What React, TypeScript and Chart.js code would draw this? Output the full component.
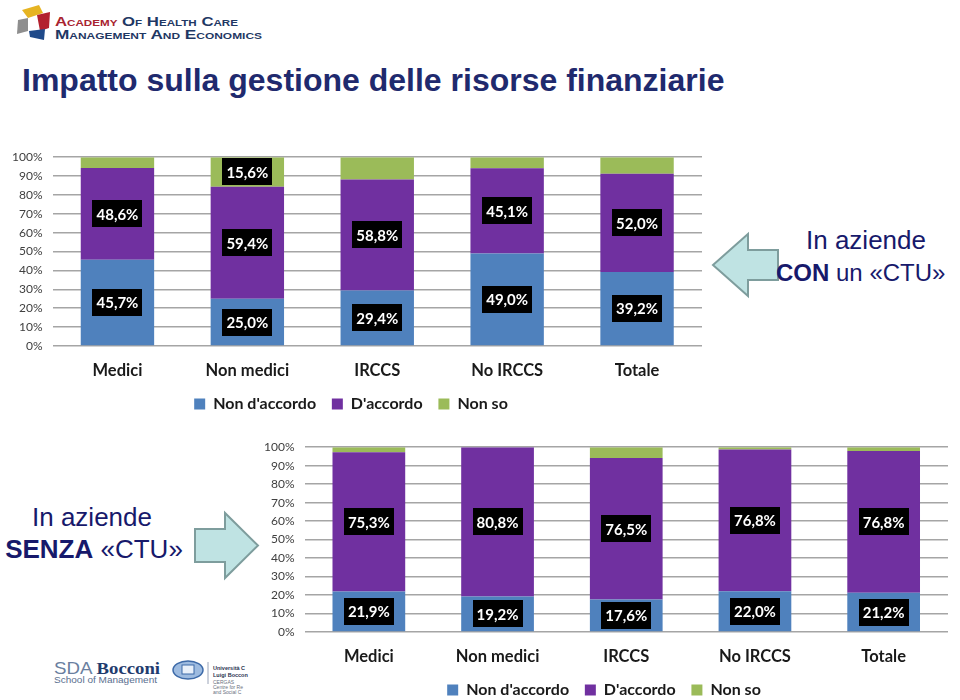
import React, { useEffect, useRef } from 'react';
import { Chart, registerables } from 'chart.js';

Chart.register(...registerables);
Chart.defaults.font.family = 'Lato';

// ---------- data ----------
const categories = ['Medici', 'Non medici', 'IRCCS', 'No IRCCS', 'Totale'];
const legendNames = ["Non d'accordo", "D'accordo", 'Non so'];
const yTickLabels = ['0%', '10%', '20%', '30%', '40%', '50%', '60%', '70%', '80%', '90%', '100%'];

// Aziende CON un «CTU»
const conNonAccordo = [45.7, 25.0, 29.4, 49.0, 39.2];
const conAccordo = [48.6, 59.4, 58.8, 45.1, 52.0];
const conNonSo = [5.7, 15.6, 11.8, 5.9, 8.8];
const conNonAccordoShown = [true, true, true, true, true];
const conAccordoShown = [true, true, true, true, true];
const conNonSoShown = [false, true, false, false, false];

// Aziende SENZA «CTU»
const senzaNonAccordo = [21.9, 19.2, 17.6, 22.0, 21.2];
const senzaAccordo = [75.3, 80.8, 76.5, 76.8, 76.8];
const senzaNonSo = [2.8, 0.0, 5.9, 1.2, 2.0];
const senzaNonAccordoShown = [true, true, true, true, true];
const senzaAccordoShown = [true, true, true, true, true];
const senzaNonSoShown = [false, false, false, false, false];

const seriesColors = ['#4F81BD', '#7030A0', '#9BBB59'];

const fmt = (v: number) => v.toFixed(1).replace('.', ',') + '%';

const boxLabelPlugin = {
  id: 'boxLabels',
  afterDatasetsDraw(chart: any) {
    const ctx = chart.ctx as CanvasRenderingContext2D;
    ctx.save();
    ctx.font = 'bold 15px Lato';
    ctx.textAlign = 'center';
    ctx.textBaseline = 'middle';
    chart.data.datasets.forEach((ds: any, di: number) => {
      const meta = chart.getDatasetMeta(di);
      meta.data.forEach((bar: any, i: number) => {
        if (!ds.showLabels || !ds.showLabels[i]) return;
        const text = fmt(ds.data[i]);
        const cx = bar.x;
        const cy = (bar.y + bar.base) / 2;
        const w = ctx.measureText(text).width + 8;
        const h = 27;
        ctx.fillStyle = '#000';
        ctx.fillRect(Math.round(cx - w / 2), Math.round(cy - h / 2), Math.round(w), h);
        ctx.fillStyle = '#fff';
        ctx.fillText(text, cx, cy + 1);
      });
    });
    ctx.restore();
  },
};

type Spec = {
  left: number; top: number; width: number; height: number;
  yWidth: number; padTop: number; padRight: number; padBottom: number; xHeight: number;
  series: number[][]; shown: boolean[][];
};

function StackedChart({ spec }: { spec: Spec }) {
  const ref = useRef<HTMLCanvasElement>(null);
  useEffect(() => {
    const defaultGen = (Chart.defaults.plugins.legend.labels as any).generateLabels;
    const chart = new Chart(ref.current as HTMLCanvasElement, {
      type: 'bar',
      data: {
        labels: categories,
        datasets: spec.series.map((values, i) => ({
          label: legendNames[i],
          data: values,
          showLabels: spec.shown[i],
          backgroundColor: seriesColors[i],
          borderWidth: 0,
          barPercentage: 0.565,
          categoryPercentage: 1,
        })) as any,
      },
      options: {
        responsive: false,
        animation: false,
        layout: { padding: { top: spec.padTop, right: spec.padRight, bottom: spec.padBottom, left: 0 } },
        plugins: {
          tooltip: { enabled: false },
          legend: {
            position: 'bottom',
            labels: {
              boxWidth: 11,
              boxHeight: 11,
              padding: 8,
              color: '#1a1a1a',
              font: { family: 'Lato', size: 16, weight: 'bold' },
              generateLabels: (c: any) => {
                const items = defaultGen(c);
                return items.map((it: any, i: number) =>
                  i < items.length - 1 ? { ...it, text: it.text + '  ' } : it);
              },
            },
          },
        },
        scales: {
          x: {
            stacked: true,
            grid: { display: false },
            border: { display: false },
            ticks: { color: '#1a1a1a', font: { family: 'Lato', size: 16.5, weight: 'bold' }, padding: 7 },
            afterFit: (s: any) => { s.height = spec.xHeight; },
          },
          y: {
            stacked: true,
            min: 0,
            max: 100,
            ticks: {
              stepSize: 10,
              padding: 10,
              color: '#404040',
              font: { family: 'Lato', size: 12 },
              callback: (_v: any, idx: number) => yTickLabels[idx],
            },
            grid: { color: '#a5a5a5', lineWidth: 1.5, drawTicks: false },
            border: { display: false },
            afterFit: (s: any) => { s.width = spec.yWidth; },
          },
        },
      } as any,
      plugins: [boxLabelPlugin],
    });
    return () => chart.destroy();
  }, []);
  return (
    <canvas
      ref={ref}
      width={spec.width}
      height={spec.height}
      style={{ position: 'absolute', left: spec.left, top: spec.top, width: spec.width, height: spec.height }}
    />
  );
}

const topSpec: Spec = {
  left: 0, top: 140, width: 720, height: 290,
  yWidth: 52.5, padTop: 15, padRight: 18, padBottom: 8, xHeight: 42,
  series: [conNonAccordo, conAccordo, conNonSo],
  shown: [conNonAccordoShown, conAccordoShown, conNonSoShown],
};

const bottomSpec: Spec = {
  left: 260, top: 430, width: 700, height: 280,
  yWidth: 44.5, padTop: 12, padRight: 12, padBottom: 2, xHeight: 42,
  series: [senzaNonAccordo, senzaAccordo, senzaNonSo],
  shown: [senzaNonAccordoShown, senzaAccordoShown, senzaNonSoShown],
};

const NAVY = '#1f2a6e';
const SIDE = '#17196b';
const ARIAL = "'Liberation Sans', Arial, sans-serif";

function Decorations() {
  return (
    <svg width={960} height={700} style={{ position: 'absolute', left: 0, top: 0 }}>
      {/* top-left logo */}
      <polygon points="22,10 39,5 43,13 28,18" fill="#e6b422" />
      <polygon points="37,15 50,12 49,28 40,31" fill="#b3202e" />
      <polygon points="18,20 28,18 28,31 17,34" fill="#8e8e8e" />
      <polygon points="29,31 45,29 44,40 30,37" fill="#1f4a8a" />
      <text x={55} y={26} fontFamily={ARIAL} fontSize={13} fontWeight="bold"
        style={{ fontVariant: 'small-caps' }} textLength={183} lengthAdjust="spacingAndGlyphs">
        <tspan fill="#a8232f">Academy</tspan>
        <tspan fill="#1f3864"> Of Health Care</tspan>
      </text>
      <text x={55} y={39} fontFamily={ARIAL} fontSize={13} fontWeight="bold" fill="#1f3864"
        style={{ fontVariant: 'small-caps' }} textLength={207} lengthAdjust="spacingAndGlyphs">
        Management And Economics
      </text>

      {/* title */}
      <text x={22} y={91} fontFamily={ARIAL} fontSize={32} fontWeight="bold" fill={NAVY}>
        Impatto sulla gestione delle risorse finanziarie
      </text>

      {/* top right arrow + text */}
      <polygon points="713,265 748,234 748,250 778,250 778,280 748,280 748,296"
        fill="#bfe3e3" stroke="#7e9d9d" strokeWidth={2} strokeLinejoin="miter" />
      <text x={806} y={249} fontFamily={ARIAL} fontSize={26} fill={SIDE}>In aziende</text>
      <text x={776} y={281} fontFamily={ARIAL} fontSize={24} fill={SIDE}>
        <tspan fontWeight="bold">CON</tspan> un «CTU»
      </text>

      {/* bottom left text + arrow */}
      <text x={92} y={526} fontFamily={ARIAL} fontSize={26} fill={SIDE} textAnchor="middle">In aziende</text>
      <text x={94} y={558} fontFamily={ARIAL} fontSize={26} fill={SIDE} textAnchor="middle">
        <tspan fontWeight="bold">SENZA</tspan> «CTU»
      </text>
      <polygon points="195,529 225,529 225,513 258,545.5 225,578 225,562 195,562"
        fill="#bfe3e3" stroke="#7e9d9d" strokeWidth={2} strokeLinejoin="miter" />

      {/* bottom logos */}
      <text x={54} y={674} fontSize={17} fill="#1f3c6e" textLength={106} lengthAdjust="spacingAndGlyphs">
        <tspan fontFamily={ARIAL} fill="#6a7fa0">SDA </tspan>
        <tspan fontFamily="'Liberation Serif', serif" fontWeight="bold">Bocconi</tspan>
      </text>
      <text x={54} y={683} fontFamily={ARIAL} fontSize={9} fill="#5a6f8f" textLength={103} lengthAdjust="spacingAndGlyphs">
        School of Management
      </text>
      <ellipse cx={188} cy={670} rx={15} ry={9} fill="#9dbbe0" stroke="#3d6aa8" strokeWidth={1.5} />
      <rect x={182} y={665} width={12} height={9} fill="#e8f0fa" stroke="#3d6aa8" strokeWidth={1} />
      <line x1={208} y1={662} x2={208} y2={684} stroke="#9aa4b8" strokeWidth={1} />
      <text x={213} y={670} fontFamily={ARIAL} fontSize={5.5} fontWeight="bold" fill="#2a3350">Università C</text>
      <text x={213} y={677} fontFamily={ARIAL} fontSize={5.5} fontWeight="bold" fill="#2a3350">Luigi Boccon</text>
      <text x={213} y={684} fontFamily={ARIAL} fontSize={5} fill="#6a7080">CERGAS</text>
      <text x={213} y={689} fontFamily={ARIAL} fontSize={5} fill="#6a7080">Centre for Re</text>
      <text x={213} y={694} fontFamily={ARIAL} fontSize={5} fill="#6a7080">and Social C</text>
    </svg>
  );
}

export default function App() {
  return (
    <div style={{ position: 'absolute', left: 0, top: 0, width: 960, height: 700, overflow: 'hidden', background: '#fff' }}>
      <Decorations />
      <StackedChart spec={topSpec} />
      <StackedChart spec={bottomSpec} />
    </div>
  );
}
